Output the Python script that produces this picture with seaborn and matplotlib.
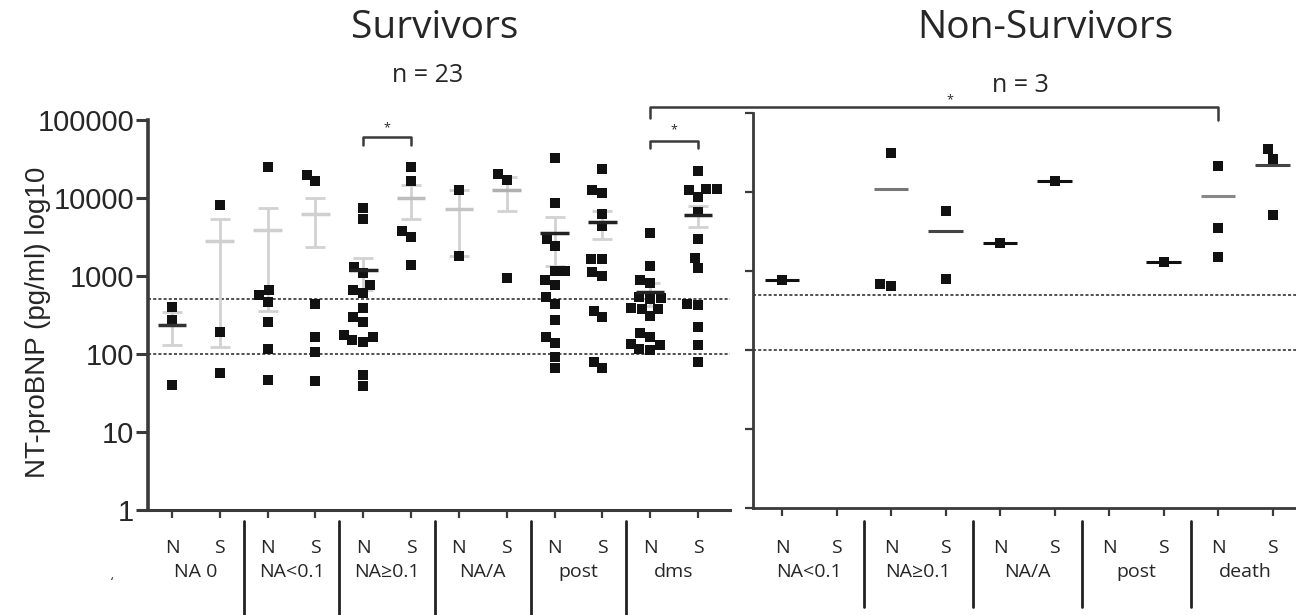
import numpy as np
import pandas as pd
import seaborn as sns
import matplotlib.pyplot as plt
from matplotlib.lines import Line2D
from matplotlib.transforms import blended_transform_factory


# ==============================
# Data (NT-proBNP, pg/ml)
# ==============================
surv_groups = ["NA 0", "NA<0.1", "NA≥0.1", "NA/A", "post", "dms"]
nons_groups = ["NA<0.1", "NA≥0.1", "NA/A", "post", "death"]

# survivors, N / S per group
na0_N = [400, 270, 40]
na0_S = [8100, 190, 57]
nalow_N = [25000, 665, 575, 470, 260, 115, 47]
nalow_S = [20000, 16500, 440, 165, 107, 45]
nahigh_N = [7400, 5400, 1320, 1100, 770, 660, 600, 390, 295, 260, 175, 165, 150, 143, 54, 39]
nahigh_S = [25000, 16500, 3800, 3160, 1400]
naa_N = [12600, 1800]
naa_S = [20400, 17000, 940]
post_N = [33000, 8700, 3000, 2400, 1170, 1170, 890, 770, 540, 440, 275, 166, 139, 92, 67]
post_S = [23400, 12500, 11500, 6300, 4400, 1660, 1650, 1140, 1000, 360, 300, 80, 66]
dms_N = [3600, 1350, 890, 810, 535, 520, 510, 390, 380, 380, 310, 185, 166, 135, 130, 115, 113]
dms_S = [22500, 12900, 12900, 12500, 10400, 6700, 2970, 1690, 1260, 440, 420, 220, 130, 80]

# non-survivors
ns_nalow_N = [780]
ns_nalow_S = []
ns_nahigh_N = [31000, 650, 680]
ns_nahigh_S = [5700, 790]
ns_naa_N = [2240]
ns_naa_S = [13800]
ns_post_N = []
ns_post_S = [1300]
ns_death_N = [21400, 3500, 1500]
ns_death_S = [35000, 26500, 5100]

surv_values = [na0_N, na0_S, nalow_N, nalow_S, nahigh_N, nahigh_S,
               naa_N, naa_S, post_N, post_S, dms_N, dms_S]
nons_values = [ns_nalow_N, ns_nalow_S, ns_nahigh_N, ns_nahigh_S, ns_naa_N, ns_naa_S,
               ns_post_N, ns_post_S, ns_death_N, ns_death_S]

ref_lines = [500, 100]
y_ticks = [1, 10, 100, 1000, 10000, 100000]
y_tick_labels = ["1", "10", "100", "1000", "10000", "100000"]


def long_form(groups, values):
    cols = [f"{g} {t}" for g in groups for t in ("N", "S")]
    rows = [(c, v) for c, vals in zip(cols, values) for v in vals]
    return cols, pd.DataFrame(rows, columns=["col", "value"])


surv_cols, df_s = long_form(surv_groups, surv_values)
nons_cols, df_n = long_form(nons_groups, nons_values)

# ==============================
# Style
# ==============================
sns.set_style("ticks")
plt.rcParams["font.family"] = ["Open Sans", "DejaVu Sans"]
AX = "#3a3a3a"
TXT = "#262626"

fig = plt.figure(figsize=(12.96, 6.15), dpi=100)
W, H = 1296, 615
ax1 = fig.add_axes([148 / W, 1 - 510 / H, (730 - 148) / W, 390 / H])
ax2 = fig.add_axes([753 / W, 1 - 508 / H, (1296 - 753) / W, 395 / H])

for ax in (ax1, ax2):
    ax.set_yscale("log")
    ax.set_ylim(1, 100000)

# ==============================
# Points
# ==============================
sns.swarmplot(data=df_s, x="col", y="value", order=surv_cols, color="#111111",
              marker="s", size=7.5, linewidth=0, ax=ax1, zorder=4)
sns.swarmplot(data=df_n, x="col", y="value", order=nons_cols, color="#111111",
              marker="s", size=7.5, linewidth=0, ax=ax2, zorder=4)

ax1.set_xlim(-0.502, 11.67)
ax2.set_xlim(-0.532, 9.43)

# mean +/- SEM
surv_mean_colors = ["#333333", "#cfcfcf", "#cfcfcf", "#cfcfcf", "#222222", "#bdbdbd",
                    "#c4c4c4", "#b0b0b0", "#222222", "#222222", "#222222", "#222222"]
stats_s = df_s.groupby("col", sort=False)["value"].agg(["mean", "sem"]).reindex(surv_cols)
for i, (c, row) in enumerate(stats_s.iterrows()):
    if np.isfinite(row["sem"]):
        ax1.errorbar(i, row["mean"], yerr=row["sem"], fmt="none", ecolor="#d2d2d2",
                     elinewidth=2, capsize=7, capthick=2, zorder=2)
    ax1.hlines(row["mean"], i - 0.3, i + 0.3, colors=surv_mean_colors[i], lw=2.5, zorder=5)

nons_mean_colors = ["#111111", "#111111", "#777777", "#444444", "#111111",
                    "#111111", "#111111", "#111111", "#888888", "#444444"]
stats_n = df_n.groupby("col", sort=False)["value"].agg(["mean"]).reindex(nons_cols)
for i, (c, row) in enumerate(stats_n.iterrows()):
    if np.isfinite(row["mean"]):
        ax2.hlines(row["mean"], i - 0.32, i + 0.32, colors=nons_mean_colors[i], lw=2.2, zorder=5)

# reference lines
for ax in (ax1, ax2):
    for v in ref_lines:
        ax.axhline(v, color="#222222", lw=1.1, ls=(0, (2, 1.4)), zorder=1)

# ==============================
# Axes styling
# ==============================
for ax in (ax1, ax2):
    sns.despine(ax=ax)
    ax.set_xlabel("")
    ax.set_ylabel("")
    ax.spines["left"].set_color(AX)
    ax.spines["bottom"].set_color(AX)
    ax.set_yticks(y_ticks)
    ax.minorticks_off()
    ax.tick_params(axis="x", length=6, width=1.6, color=AX, labelbottom=False)

ax1.spines["left"].set_linewidth(2.6)
ax1.spines["bottom"].set_linewidth(2.2)
ax2.spines["left"].set_linewidth(2.0)
ax2.spines["bottom"].set_linewidth(2.0)
ax1.set_xticks(range(len(surv_cols)))
ax2.set_xticks(range(len(nons_cols)))
ax1.set_yticklabels(y_tick_labels, fontsize=21, color=TXT, family="Liberation Sans")
ax1.tick_params(axis="y", length=9, width=2.2, color=AX, pad=1)
ax2.tick_params(axis="y", length=6, width=1.6, color=AX, labelleft=False)

fig.text(38 / W, 1 - 322 / H, "NT-proBNP (pg/ml) log10", rotation=90, ha="center",
         va="center", fontsize=20, color=TXT, family="Liberation Sans")

# category labels and separators
for ax, groups in ((ax1, surv_groups), (ax2, nons_groups)):
    tr = blended_transform_factory(ax.transData, fig.transFigure)
    for gi, g in enumerate(groups):
        ax.text(2 * gi, 1 - 548 / H, "N", transform=tr, ha="center", va="center",
                fontsize=14, color=TXT)
        ax.text(2 * gi + 1, 1 - 548 / H, "S", transform=tr, ha="center", va="center",
                fontsize=14, color=TXT)
        ax.text(2 * gi + 0.5, 1 - 572 / H, g, transform=tr, ha="center", va="center",
                fontsize=14, color=TXT)
        if gi < len(groups) - 1:
            bottom = 0 if ax is ax1 else 1 - 607 / H
            ax.add_line(Line2D([2 * gi + 1.5] * 2, [1 - 521 / H, bottom], transform=tr,
                               color="#222222", lw=2, clip_on=False))

fig.text(112 / W, 1 - 583 / H, "‘", fontsize=9, color=TXT, ha="center", va="center")

# titles
fig.text(435 / W, 1 - 28 / H, "Survivors", ha="center", va="center", fontsize=28, color=TXT)
fig.text(428 / W, 1 - 75 / H, "n = 23", ha="center", va="center", fontsize=18, color=TXT)
fig.text(1045 / W, 1 - 28 / H, "Non-Survivors", ha="center", va="center", fontsize=28, color=TXT)
fig.text(1020 / W, 1 - 85 / H, "n = 3", ha="center", va="center", fontsize=18, color=TXT)

# ==============================
# Significance brackets
# ==============================
def bracket(ax, x0, x1, y_top, y_end, y_star):
    ax.plot([x0, x0, x1, x1], [y_end, y_top, y_top, y_end], color=AX, lw=1.8,
            clip_on=False, zorder=6)
    ax.text((x0 + x1) / 2, y_star, "*", ha="center", va="center", fontsize=9, color=TXT)


bracket(ax1, 4, 5, 60500, 47800, 79000)
bracket(ax1, 10, 11, 54000, 44000, 74000)

to_fig = fig.transFigure.inverted()
xl = to_fig.transform(ax1.transData.transform((10, 1)))[0]
xr = to_fig.transform(ax2.transData.transform((8, 1)))[0]
fig.add_artist(Line2D([xl, xl, xr, xr], [1 - 118 / H, 1 - 107 / H, 1 - 107 / H, 1 - 120 / H],
                      transform=fig.transFigure, color=AX, lw=1.8))
fig.text(950 / W, 1 - 100 / H, "*", ha="center", va="center", fontsize=9, color=TXT)

fig.savefig("out.png", dpi=100)
